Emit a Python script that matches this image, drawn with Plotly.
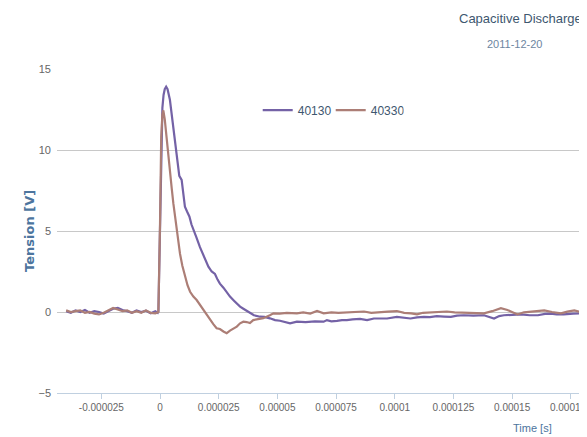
import plotly.graph_objects as go

# time in microseconds, tension in volts
t_40130 = [-40, -38, -36, -34, -32, -30, -28, -26, -24, -22, -20, -18, -16, -14, -12, -10, -8, -6, -4, -2, -1, -0.7,
           0, 0.5, 1.0, 1.5, 2.0, 2.6, 3.2, 4.2, 5.0, 5.7, 6.4, 7.1, 8.2, 9.2, 10.0, 10.6, 11.5, 12.5, 13.4, 14.2,
           15.5, 17.0, 18.5, 19.5, 20.6, 22.0, 23.4, 24.5, 25.5, 27.0, 28.5, 29.8, 31.5, 33.0, 34.1, 35.5, 37.0,
           38.3, 40.0, 42.6, 44.5, 46.8, 49.0, 51.1, 53.0, 55.4, 58.3, 62, 66, 69.7, 71.1, 73, 75.4, 77.5, 79.6,
           82, 85.2, 88.2, 91.1, 94, 96.7, 100.9, 103.5, 106.7, 109.5, 112.4, 115, 117.9, 121, 123.9, 126.5,
           129.4, 133.5, 138, 142.3, 144.5, 146.5, 150, 153.7, 157.5, 161, 164, 166.5, 169, 172, 176, 180.8, 182]
v_40130 = [0.05, -0.05, 0.1, 0.0, 0.12, -0.05, 0.05, 0.0, -0.1, 0.05, 0.2, 0.25, 0.12, 0.05, -0.05, 0.1, 0.0, 0.08,
           -0.08, 0.05, -0.05, 0.05,
           5.0, 10.5, 12.6, 13.4, 13.75, 13.9, 13.75, 13.1, 12.2, 11.4, 10.6, 9.8, 8.4, 8.15, 7.3, 6.5, 6.2, 5.9,
           5.4, 5.05, 4.6, 4.0, 3.5, 3.1, 2.8, 2.5, 2.35, 2.0, 1.75, 1.5, 1.2, 0.95, 0.7, 0.45, 0.33, 0.2, 0.05,
           -0.08, -0.2, -0.29, -0.3, -0.39, -0.5, -0.54, -0.62, -0.7, -0.6, -0.62, -0.58, -0.6, -0.5, -0.58, -0.55,
           -0.5, -0.5, -0.45, -0.43, -0.5, -0.4, -0.42, -0.4, -0.3, -0.35, -0.4, -0.33, -0.3, -0.32, -0.25, -0.28,
           -0.3, -0.22, -0.2, -0.22, -0.2, -0.4, -0.25, -0.2, -0.18, -0.15, -0.2, -0.2, -0.12, -0.1, -0.15, -0.15,
           -0.1, -0.07, -0.08]

t_40330 = [-40, -38, -36, -34, -32, -30, -28, -26, -24, -22, -20, -18, -16, -14, -12, -10, -8, -6, -4, -2, -1, -0.7,
           0, 0.5, 1.0, 1.4, 2.0, 2.85, 3.5, 4.26, 5.0, 5.67, 6.4, 7.1, 7.8, 8.5, 9.5, 10.6, 11.7, 12.8, 14.2,
           15.6, 17.0, 18.4, 19.8, 21.3, 22.7, 24.1, 25.5, 27.0, 28.4, 29.8, 31.2, 32.7, 34.1, 35.5, 36.9, 38.3,
           39.7, 42.0, 44.0, 46.8, 48.3, 51, 54, 58.3, 61, 64, 66.9, 69.7, 73, 76, 79.6, 83, 86.9, 90, 93.9, 97,
           100.9, 104, 107, 109.5, 112, 115.4, 118.5, 122.2, 125.5, 129.4, 133.5, 138, 141.5, 145.2, 148, 150,
           152.3, 155, 158, 161, 163.7, 167, 170.8, 173.5, 176.5, 179, 182]
v_40330 = [0.1, 0.0, 0.05, 0.1, -0.05, 0.0, -0.1, -0.15, -0.05, 0.1, 0.25, 0.15, 0.05, 0.1, -0.05, 0.05, -0.05, 0.1,
           -0.05, -0.08, -0.05, 0.0,
           5.5, 10.8, 12.2, 12.45, 11.9, 10.8, 9.8, 8.77, 7.6, 6.7, 5.8, 5.06, 4.3, 3.6, 2.85, 2.18, 1.65, 1.25,
           0.95, 0.74, 0.45, 0.12, -0.2, -0.49, -0.75, -1.0, -1.05, -1.2, -1.31, -1.15, -1.05, -0.9, -0.7, -0.6,
           -0.62, -0.68, -0.5, -0.42, -0.38, -0.2, -0.08, -0.1, -0.05, -0.08, -0.02, -0.1, 0.06, -0.08, -0.02,
           -0.06, -0.03, 0.02, 0.03, -0.05, -0.03, 0.02, 0.06, -0.05, -0.08, -0.15, -0.05, -0.03, 0.0, 0.03, -0.02,
           -0.03, -0.05, -0.08, 0.05, 0.23, 0.12, 0.0, -0.15, -0.02, 0.03, 0.08, 0.1, 0.0, -0.08, 0.02, 0.1, 0.0,
           -0.03]

x_tick_vals = [-0.000025, 0, 0.000025, 0.00005, 0.000075, 0.0001, 0.000125, 0.00015, 0.000175]
x_tick_text = ["-0.000025", "0", "0.000025", "0.00005", "0.000075", "0.0001", "0.000125", "0.00015", "0.000175"]
y_tick_vals = [-5, 0, 5, 10, 15]

US = 1e-6
FONT = "Liberation Sans, Arial, sans-serif"

fig = go.Figure()
for name, tt, vv, col in [("40130", t_40130, v_40130, "#7462A6"),
                          ("40330", t_40330, v_40330, "#AC7E76")]:
    fig.add_trace(go.Scatter(
        x=[t * US for t in tt], y=vv, mode="lines", name=name,
        line=dict(color=col, width=2.2),
    ))

# the page body has an 8px margin, so the figure is sized to end at the window edge
fig.update_layout(
    width=579, height=429,
    margin=dict(l=49, r=0, t=61, b=44, autoexpand=False),
    paper_bgcolor="white", plot_bgcolor="white",
    showlegend=True,
    legend=dict(orientation="h", x=0.3787, y=0.873, xanchor="left", yanchor="middle",
                font=dict(family=FONT, size=12, color="#3E576F"),
                itemwidth=30, entrywidth=28, bgcolor="rgba(0,0,0,0)"),
    xaxis=dict(range=[-43.9 * US, 181.9 * US], tickvals=x_tick_vals, ticktext=x_tick_text,
               showgrid=False, zeroline=False, showline=True, linecolor="#C0D0E0", linewidth=1,
               ticks="outside", ticklen=5, tickcolor="#C0D0E0", automargin=False,
               ticklabeloverflow="allow",
               tickfont=dict(family=FONT, size=10, color="#666666")),
    yaxis=dict(range=[-5, 15], tickvals=y_tick_vals, showgrid=True, gridcolor="#C8C8C8",
               gridwidth=1, zeroline=False, showline=False, ticks="", automargin=False,
               ticklabelstandoff=5,
               tickfont=dict(family=FONT, size=11, color="#666666")),
    annotations=[
        dict(text="Capacitive Discharge", xref="paper", yref="paper", x=0.8736, y=1.157,
             xanchor="center", yanchor="middle", showarrow=False,
             font=dict(family=FONT, size=13, color="#3E576F")),
        dict(text="2011-12-20", xref="paper", yref="paper", x=0.864, y=1.077,
             xanchor="center", yanchor="middle", showarrow=False,
             font=dict(family=FONT, size=11, color="#6D869F")),
        dict(text="Time [s]", xref="paper", yref="paper", x=0.898, y=-0.108,
             xanchor="center", yanchor="middle", showarrow=False,
             font=dict(family=FONT, size=11, color="#4D759E")),
        dict(text="<b>Tension [V]</b>", xref="paper", yref="paper", x=-0.053, y=0.5,
             xanchor="center", yanchor="middle", showarrow=False, textangle=-90,
             font=dict(family="DejaVu Sans", size=13, color="#4D759E")),
    ],
)

fig.write_html("out.html")
